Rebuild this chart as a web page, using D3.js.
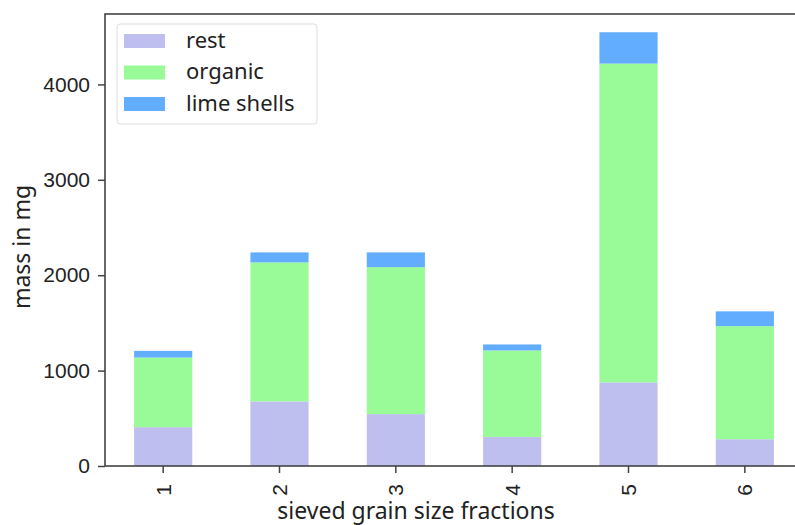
<!DOCTYPE html>
<html>
<head>
<meta charset="utf-8">
<script src="https://cdn.jsdelivr.net/npm/d3@7"></script>
<style>
  body { margin: 0; background: #fff; }
  svg { font-family: "Noto Sans", "Open Sans", sans-serif; }
</style>
</head>
<body>
<svg id="chart"></svg>
<script>
const fractions = ["1", "2", "3", "4", "5", "6"];
const rest = [407, 677, 544, 305, 877, 281];
const organic = [730, 1457, 1540, 906, 3341, 1185];
const limeShells = [70, 105, 155, 63, 329, 155];
const seriesNames = ["rest", "organic", "lime shells"];
const yTicks = [0, 1000, 2000, 3000, 4000];

const width = 795;
const height = 525;
const margin = { top: 14, left: 105, bottom: 59 };
const plotRight = 803; // right spine falls just outside the picture

const svg = d3.select("#chart").attr("width", width).attr("height", height);

const colors = d3.scaleOrdinal()
  .domain(seriesNames)
  .range(["#bfbfef", "#98fb98", "#62adff"]);

const table = fractions.map((f, i) => ({
  fraction: f,
  "rest": rest[i],
  "organic": organic[i],
  "lime shells": limeShells[i]
}));

const stacked = d3.stack().keys(seriesNames)(table);

const xScale = d3.scaleBand()
  .domain(fractions)
  .range([margin.left, plotRight])
  .paddingInner(0.5)
  .paddingOuter(0.25);

const yScale = d3.scaleLinear()
  .domain([0, 4738])
  .range([height - margin.bottom, margin.top]);

// bars
svg.append("g")
  .selectAll("g")
  .data(stacked)
  .enter()
  .append("g")
  .attr("fill", (d) => colors(d.key))
  .selectAll("rect")
  .data((d) => d)
  .enter()
  .append("rect")
  .attr("x", (d) => xScale(d.data.fraction))
  .attr("y", (d) => yScale(d[1]))
  .attr("width", xScale.bandwidth())
  .attr("height", (d) => yScale(d[0]) - yScale(d[1]));

// axes
const xAxis = d3.axisBottom(xScale).tickSize(7).tickPadding(4);
const yAxis = d3.axisLeft(yScale)
  .tickValues(yTicks)
  .tickFormat(d3.format("d"))
  .tickSize(7)
  .tickPadding(8);

const gx = svg.append("g")
  .attr("transform", `translate(0, ${height - margin.bottom})`)
  .call(xAxis);
gx.selectAll("text")
  .attr("transform", "rotate(-90)")
  .attr("x", -24)
  .attr("y", 0)
  .attr("dy", "0.35em")
  .style("text-anchor", "middle");

const gy = svg.append("g")
  .attr("transform", `translate(${margin.left}, 0)`)
  .call(yAxis);

[gx, gy].forEach((g) => {
  g.select(".domain").remove();
  g.selectAll("line").attr("stroke", "#444").attr("stroke-width", 1.5);
  g.selectAll("text").attr("fill", "#222").style("font-size", "21px");
});

// spines
svg.append("rect")
  .attr("x", margin.left)
  .attr("y", margin.top)
  .attr("width", plotRight - margin.left)
  .attr("height", height - margin.bottom - margin.top)
  .attr("fill", "none")
  .attr("stroke", "#444")
  .attr("stroke-width", 1.6);

// labels
svg.append("text")
  .attr("transform", `translate(30, 247) rotate(-90)`)
  .attr("text-anchor", "middle")
  .attr("fill", "#222")
  .style("font-size", "23px")
  .text("mass in mg");

svg.append("text")
  .attr("x", 416)
  .attr("y", 519)
  .attr("text-anchor", "middle")
  .attr("fill", "#222")
  .style("font-size", "23px")
  .text("sieved grain size fractions");

// legend
const legend = svg.append("g").attr("transform", "translate(117, 24)");
legend.append("rect")
  .attr("width", 200)
  .attr("height", 100)
  .attr("rx", 3)
  .attr("fill", "#fff")
  .attr("stroke", "#ddd");

const items = legend.selectAll("g.item")
  .data(seriesNames)
  .enter()
  .append("g")
  .attr("class", "item")
  .attr("transform", (d, i) => `translate(7, ${10 + i * 31.5})`);

items.append("rect")
  .attr("width", 41)
  .attr("height", 14)
  .attr("fill", (d) => colors(d));

items.append("text")
  .attr("x", 62)
  .attr("y", 6)
  .attr("dy", "0.35em")
  .attr("fill", "#222")
  .style("font-size", "22px")
  .text((d) => d);
</script>
</body>
</html>
